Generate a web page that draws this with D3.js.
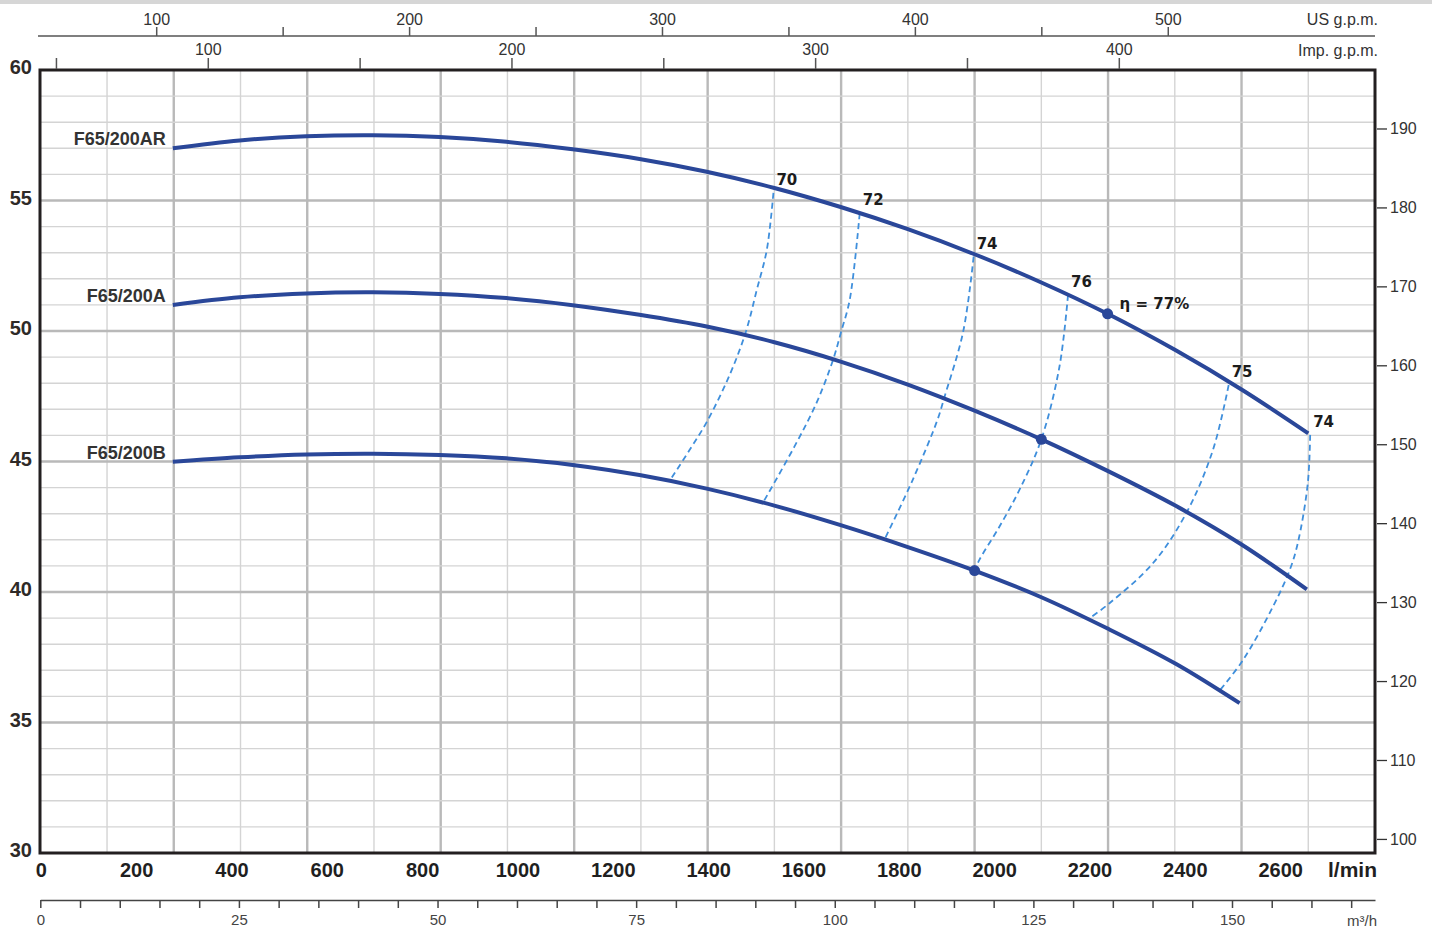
<!DOCTYPE html>
<html>
<head>
<meta charset="utf-8">
<script src="https://cdn.jsdelivr.net/npm/d3@7"></script>
<style>
html,body{margin:0;padding:0;background:#fff;}
svg{display:block;}
</style>
</head>
<body>
<script>
// ---------------- DATA ----------------
// Bottom axis (l/min) tick labels
const flowTicks = [0, 200, 400, 600, 800, 1000, 1200, 1400, 1600, 1800, 2000, 2200, 2400, 2600];
// Left axis (m) tick labels
const headTicks = [30, 35, 40, 45, 50, 55, 60];
// Right axis (ft) tick labels
const feetTicks = [100, 110, 120, 130, 140, 150, 160, 170, 180, 190];
// m3/h axis
const m3hLabels = [0, 25, 50, 75, 100, 125, 150];
// Top axes
const usLabels = [100, 200, 300, 400, 500];
const usMinor = [150, 250, 350, 450];
const impLabels = [100, 200, 300, 400];
const impMinor = [50, 150, 250, 350];

// Curves: flow (l/min) / head (m)
const curveNames = ["F65/200AR", "F65/200A", "F65/200B"];
const flowAR = [278, 418, 558, 698, 838, 978, 1117, 1257, 1398, 1540, 1679, 1820, 1960, 2100, 2239, 2382, 2520, 2660];
const headAR = [57.0, 57.30, 57.46, 57.50, 57.43, 57.25, 56.96, 56.59, 56.10, 55.48, 54.75, 53.90, 52.94, 51.86, 50.66, 49.26, 47.76, 46.08];
const flowA  = [278, 418, 558, 698, 838, 978, 1117, 1257, 1398, 1540, 1679, 1820, 1960, 2100, 2239, 2382, 2520, 2657];
const headA  = [51.0, 51.29, 51.44, 51.48, 51.42, 51.26, 50.99, 50.62, 50.17, 49.57, 48.83, 47.95, 46.95, 45.85, 44.64, 43.30, 41.82, 40.1];
const flowB  = [278, 418, 558, 698, 838, 978, 1117, 1257, 1398, 1540, 1679, 1820, 1960, 2100, 2239, 2382, 2516];
const headB  = [44.99, 45.16, 45.27, 45.30, 45.25, 45.12, 44.87, 44.48, 43.96, 43.31, 42.56, 41.72, 40.82, 39.80, 38.60, 37.25, 35.74];

// Iso-efficiency lines [flow, head]
const effLabels = ["70", "72", "74", "76", "75", "74"];
const eff70 = [[1538,55.29],[1524,53.10],[1503,51.57],[1480,49.96],[1446,48.31],[1398,46.51],[1362,45.44],[1320,44.25]];
const eff72 = [[1719,54.51],[1698,51.19],[1680,49.97],[1663,48.89],[1628,47.23],[1582,45.57],[1516,43.42]];
const eff74 = [[1958,52.85],[1936,49.97],[1897,47.48],[1882,46.59],[1830,44.29],[1771,42.01]];
const eff76 = [[2156,51.38],[2138,48.63],[2100,45.85],[2054,43.91],[2012,42.5],[1970,41.23],[1960,40.82]];
const eff75 = [[2493,47.93],[2460,45.44],[2404,43.02],[2334,41.1],[2243,39.57],[2198,38.95]];
const eff74b = [[2664,46.02],[2659,44.16],[2638,41.87],[2621,40.84],[2586,39.44],[2523,37.39],[2474,36.22]];

// Best efficiency points
const bepFlow = [2239, 2100, 1960];
const bepHead = [50.66, 45.85, 40.82];
const bepLabel = "η = 77%";

// ---------------- CHART ----------------
const W = 1432, H = 933;
const SANS = "'Liberation Sans', Arial, Helvetica, sans-serif";
const DEJA = "'DejaVu Sans', sans-serif";
const svg = d3.select("body").append("svg").attr("width", W).attr("height", H)
  .style("font-family", SANS);

const x = d3.scaleLinear().domain([0, 2800]).range([40.3, 1375]);
const y = d3.scaleLinear().domain([30, 60]).range([853, 70]);
const m3h = d3.scaleLinear().domain([0, 168]).range([x(0), x(2800)]);
const ft = d3.scaleLinear().domain([100, 190]).range([y(30.52), y(57.74)]);
const us = d3.scaleLinear().domain([100, 500]).range([x(244.2), x(2366.3)]);
const imp = d3.scaleLinear().domain([100, 400]).range([x(352.4), x(2263.6)]);

const blue = "#2a4799";
const dashBlue = "#3f8fdc";

// top grey band
svg.append("rect").attr("x", 0).attr("y", 0).attr("width", W).attr("height", 4).attr("fill", "#d6d6d6");

// grid
const g = svg.append("g");
d3.range(0, 2801, 140).forEach((v, i) => {
  if (i === 0 || v === 2800) return;
  g.append("line").attr("x1", x(v)).attr("x2", x(v)).attr("y1", y(60)).attr("y2", y(30))
    .attr("stroke", i % 2 === 0 ? "#b9b9b9" : "#d4d4d4").attr("stroke-width", i % 2 === 0 ? 2.4 : 1.4);
});
d3.range(31, 60, 1).forEach(v => {
  const major = v % 5 === 0;
  g.append("line").attr("x1", x(0)).attr("x2", x(2800)).attr("y1", y(v)).attr("y2", y(v))
    .attr("stroke", major ? "#b9b9b9" : "#d4d4d4").attr("stroke-width", major ? 2.4 : 1.4);
});

// plot border
svg.append("rect").attr("x", 40).attr("y", y(60)).attr("width", 1335).attr("height", y(30) - y(60))
  .attr("fill", "none").attr("stroke", "#231f20").attr("stroke-width", 3);

// left axis labels
svg.append("g").selectAll("text").data(headTicks).join("text")
  .attr("x", 32).attr("y", d => y(d) + 4).attr("text-anchor", "end")
  .style("font-size", "20px").style("font-weight", "bold").attr("fill", "#2e2a27").text(d => d);

// right axis ticks + labels
const ra = svg.append("g");
ra.selectAll("line").data(feetTicks).join("line")
  .attr("x1", 1377).attr("x2", 1387).attr("y1", d => ft(d)).attr("y2", d => ft(d))
  .attr("stroke", "#333").attr("stroke-width", 1.3);
ra.selectAll("text").data(feetTicks).join("text")
  .attr("x", 1390).attr("y", d => ft(d) + 5.5).style("font-size", "16px").attr("fill", "#333").text(d => d);

// bottom l/min labels
svg.append("g").selectAll("text").data(flowTicks).join("text")
  .attr("x", d => x(d) + 1).attr("y", 877).attr("text-anchor", "middle")
  .style("font-size", "20px").style("font-weight", "bold").attr("fill", "#1f1f1f").text(d => d);
svg.append("text").attr("x", 1377).attr("y", 877).attr("text-anchor", "end")
  .style("font-size", "21px").style("font-weight", "bold").attr("fill", "#1f1f1f").text("l/min");

// m3/h axis
const mAxis = d3.axisBottom(m3h).tickValues(d3.range(0, 166, 5)).tickSize(8).tickSizeOuter(0).tickPadding(6)
  .tickFormat(d => m3hLabels.includes(d) ? d : "");
const mg = svg.append("g").attr("transform", "translate(0,900)").call(mAxis);
mg.attr("font-family", null).attr("font-size", null);
mg.select(".domain").attr("stroke", "#444").attr("stroke-width", 1.5);
mg.selectAll(".tick line").attr("stroke", "#444").attr("stroke-width", 1.5);
mg.selectAll(".tick text").style("font-size", "15px").style("font-family", SANS).attr("fill", "#444");
svg.append("text").attr("x", 1377).attr("y", 926).attr("text-anchor", "end")
  .style("font-size", "15px").attr("fill", "#444").text("m³/h");

// US gpm axis (top)
const ug = svg.append("g");
ug.append("line").attr("x1", 38).attr("x2", 1375).attr("y1", 36).attr("y2", 36).attr("stroke", "#555").attr("stroke-width", 1.5);
ug.selectAll("line.t").data(usLabels.concat(usMinor)).join("line").attr("class", "t")
  .attr("x1", d => us(d)).attr("x2", d => us(d)).attr("y1", 36).attr("y2", 27)
  .attr("stroke", "#555").attr("stroke-width", 1.5);
ug.selectAll("text").data(usLabels).join("text")
  .attr("x", d => us(d)).attr("y", 25).attr("text-anchor", "middle")
  .style("font-size", "16px").attr("fill", "#333").text(d => d);
svg.append("text").attr("x", 1378).attr("y", 25).attr("text-anchor", "end")
  .style("font-size", "16px").attr("fill", "#333").text("US g.p.m.");

// Imp gpm axis (top)
const ig = svg.append("g");
ig.selectAll("line").data(impLabels.concat(impMinor)).join("line")
  .attr("x1", d => imp(d)).attr("x2", d => imp(d)).attr("y1", 69).attr("y2", 58)
  .attr("stroke", "#555").attr("stroke-width", 1.5);
ig.selectAll("text").data(impLabels).join("text")
  .attr("x", d => imp(d)).attr("y", 55).attr("text-anchor", "middle")
  .style("font-size", "16px").attr("fill", "#333").text(d => d);
svg.append("text").attr("x", 1378).attr("y", 56).attr("text-anchor", "end")
  .style("font-size", "16px").attr("fill", "#333").text("Imp. g.p.m.");

// iso-efficiency dashed lines
const effSets = [eff70, eff72, eff74, eff76, eff75, eff74b];
const effLine = d3.line().x(d => x(d[0])).y(d => y(d[1])).curve(d3.curveCatmullRom.alpha(0.5));
const eg = svg.append("g");
effSets.forEach((pts, i) => {
  eg.append("path").attr("d", effLine(pts)).attr("fill", "none")
    .attr("stroke", dashBlue).attr("stroke-width", 1.8).attr("stroke-dasharray", "6,4");
  eg.append("text").attr("x", x(pts[0][0]) + 3).attr("y", y(pts[0][1]) - 8)
    .style("font-family", DEJA).style("font-weight", "bold")
    .style("font-size", "15px").attr("fill", "#1c1c1c").text(effLabels[i]);
});

// pump curves
const series = [
  { name: curveNames[0], f: flowAR, h: headAR },
  { name: curveNames[1], f: flowA, h: headA },
  { name: curveNames[2], f: flowB, h: headB }
];
const line = d3.line().x(d => x(d[0])).y(d => y(d[1])).curve(d3.curveCatmullRom.alpha(0.5));
const cg = svg.append("g");
series.forEach(s => {
  const pts = s.f.map((f, i) => [f, s.h[i]]);
  cg.append("path").attr("d", line(pts)).attr("fill", "none")
    .attr("stroke", blue).attr("stroke-width", 4).attr("stroke-linecap", "butt");
  cg.append("text").attr("x", x(s.f[0]) - 7).attr("y", y(s.h[0]) - 3).attr("text-anchor", "end")
    .style("font-size", "18px").style("font-weight", "bold").attr("fill", "#333").text(s.name);
});

// best efficiency points
cg.selectAll("circle").data(bepFlow).join("circle")
  .attr("cx", d => x(d)).attr("cy", (d, i) => y(bepHead[i])).attr("r", 5.5).attr("fill", blue);
cg.append("text").attr("x", x(bepFlow[0]) + 12).attr("y", y(bepHead[0]) - 5)
  .style("font-family", DEJA).style("font-weight", "bold")
  .style("font-size", "15px").attr("fill", "#1c1c1c").text(bepLabel);
</script>
</body>
</html>
